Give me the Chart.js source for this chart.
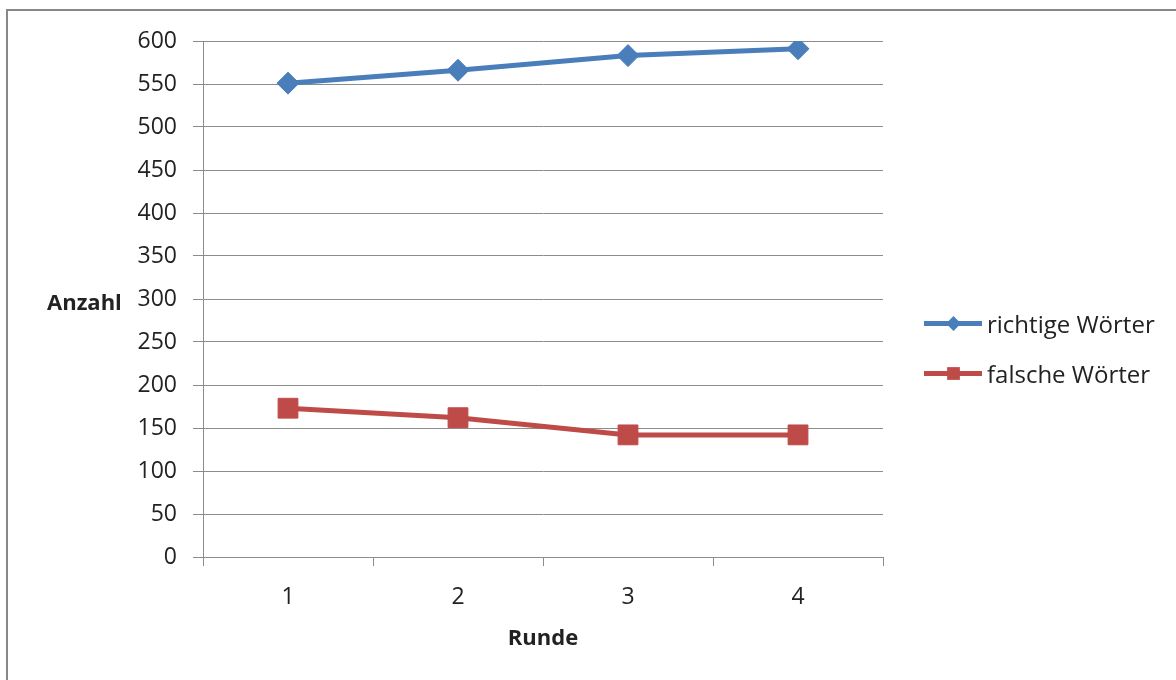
<!DOCTYPE html>
<html>
<head>
<meta charset="utf-8">
<script src="https://cdn.jsdelivr.net/npm/chart.js@4/dist/chart.umd.min.js"></script>
<style>
  body { margin: 0; background: #fff; font-family: 'Open Sans', sans-serif; color: #222; }
  #wrap { position: relative; width: 1176px; height: 680px; overflow: hidden; }
  #frame { position: absolute; left: 6px; top: 9px; width: 1300px; height: 800px;
           border-top: 2px solid #888; border-left: 2px solid #888; }
  #chart { position: absolute; left: 0; top: 0; }
  #ytitle { position: absolute; left: 47px; top: 286px; font-weight: bold; font-size: 22px; }
  .leg { position: absolute; left: 924px; height: 30px; display: flex; align-items: center; font-size: 24px; }
  .leg .ln { position: relative; width: 58px; height: 5px; margin-right: 5px; }
  .leg .mk { position: absolute; left: 22px; top: -5px; width: 15px; height: 15px; }
</style>
</head>
<body>
<div id="wrap">
  <div id="frame"></div>
  <canvas id="chart" width="1176" height="680"></canvas>
  <div id="ytitle">Anzahl</div>
  <div id="legend"></div>
</div>
<script>
// data
const rounds = ['1', '2', '3', '4'];
const correctWords = [551, 566, 583, 591];
const wrongWords = [173, 162, 142, 142];
const seriesNames = ['richtige Wörter', 'falsche Wörter'];
const seriesColors = ['#4a7ebb', '#be4b48'];

const yMin = 0, yMax = 600, yStep = 50;

Chart.defaults.font.family = "'Open Sans', sans-serif";
Chart.defaults.color = '#222';

const gridColor = '#8c8c8c';

const ctx = document.getElementById('chart').getContext('2d');
const chart = new Chart(ctx, {
  type: 'line',
  data: {
    labels: rounds,
    datasets: [
      {
        label: seriesNames[0],
        data: correctWords,
        borderColor: seriesColors[0],
        backgroundColor: seriesColors[0],
        borderWidth: 5,
        pointStyle: 'rectRot',
        pointRadius: 11,
        pointBorderWidth: 1,
        tension: 0
      },
      {
        label: seriesNames[1],
        data: wrongWords,
        borderColor: seriesColors[1],
        backgroundColor: seriesColors[1],
        borderWidth: 5,
        pointStyle: 'rect',
        pointRadius: 14,
        pointBorderWidth: 1,
        tension: 0
      }
    ]
  },
  options: {
    responsive: false,
    animation: false,
    layout: { padding: { top: 41, right: 293, bottom: 0, left: 0 } },
    plugins: { legend: { display: false }, tooltip: { enabled: false } },
    scales: {
      x: {
        offset: true,
        grid: { offset: true, drawOnChartArea: false, drawTicks: true, tickLength: 9, color: gridColor },
        border: { color: gridColor },
        ticks: { font: { size: 23 }, padding: 18, color: '#222' },
        title: { display: true, text: 'Runde', font: { size: 22, weight: 'bold' }, padding: { top: 4, bottom: 28 } },
        afterFit: s => { s.height = 123; }
      },
      y: {
        min: yMin,
        max: yMax,
        ticks: { stepSize: yStep, font: { size: 23 }, padding: 16, color: '#222' },
        grid: { color: gridColor, tickLength: 10 },
        border: { color: gridColor },
        afterFit: s => { s.width = 203; }
      }
    }
  }
});

// legend: line with marker, built from the datasets
const legendBox = document.getElementById('legend');
chart.data.datasets.forEach((ds, i) => {
  const row = document.createElement('div');
  row.className = 'leg';
  row.style.top = (308 + i * 50) + 'px';
  const ln = document.createElement('div');
  ln.className = 'ln';
  ln.style.background = ds.borderColor;
  const mk = document.createElement('div');
  mk.className = 'mk';
  mk.style.background = ds.borderColor;
  if (ds.pointStyle === 'rectRot') {
    mk.style.transform = 'rotate(45deg) scale(0.7)';
  } else {
    mk.style.transform = 'scale(0.85)';
  }
  ln.appendChild(mk);
  row.appendChild(ln);
  const txt = document.createElement('span');
  txt.textContent = ds.label;
  row.appendChild(txt);
  legendBox.appendChild(row);
});
</script>
</body>
</html>
